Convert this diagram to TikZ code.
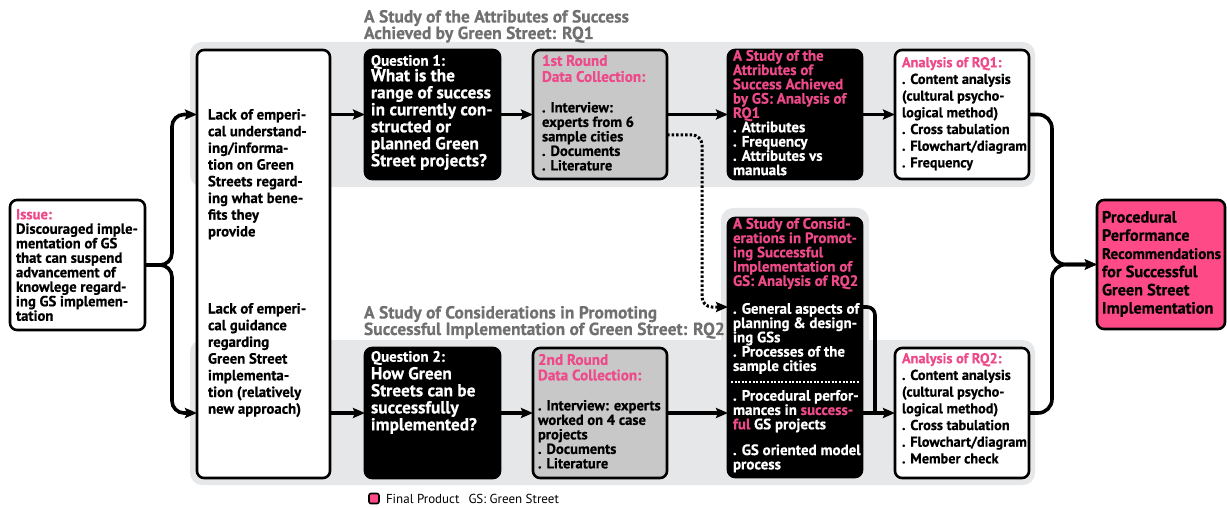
\documentclass[tikz,border=0pt]{standalone}
\usepackage{fontspec}
\setmainfont{PT Sans}[BoldFeatures={FakeBold=0.6}]
\usetikzlibrary{arrows.meta,calc}
\definecolor{pinkT}{HTML}{EE4A8A}
\definecolor{pinkF}{HTML}{FF4A88}
\definecolor{bandgray}{HTML}{E6E7E8}
\definecolor{dcgray}{HTML}{C8C8C8}
\definecolor{titlegray}{HTML}{707070}
\begin{document}
\begin{tikzpicture}[x=1pt,y=-1pt,
  every node/.style={inner sep=0pt, outer sep=0pt},
  box/.style={draw=black, line width=2.6pt, rounded corners=7pt, anchor=north west, fill=white},
  blackbox/.style={box, fill=black},
  graybox/.style={box, fill=dcgray},
  band/.style={fill=bandgray, rounded corners=12pt},
  txt/.style={anchor=north west, align=left, font=\bfseries\fontsize{14.7}{14.5}\selectfont},
  txtD/.style={anchor=north west, align=left, font=\bfseries\fontsize{14.6}{14.5}\selectfont},
  txtL/.style={anchor=north west, align=left, font=\bfseries\fontsize{14.8}{16.7}\selectfont},
  txtQ/.style={anchor=north west, align=left, text=white, font=\bfseries\fontsize{17.3}{17}\selectfont},
  txtS/.style={anchor=north west, align=left, font=\bfseries\fontsize{15}{14.3}\selectfont},
  txtA/.style={anchor=north west, align=left, font=\bfseries\fontsize{14.3}{16.7}\selectfont},
  ttl/.style={anchor=north west, align=left, text=titlegray, font=\bfseries\fontsize{17.5}{16.5}\selectfont},
  conn/.style={line width=3.6pt, -{Stealth[length=12pt,width=10pt,inset=2pt]}},
  connline/.style={line width=3.6pt},
  dotc/.style={line width=3pt, dash pattern=on 2.5pt off 2pt, -{Stealth[length=12pt,width=10pt,inset=2pt]}},
]
\useasboundingbox (0,0) rectangle (1227,508);
% bands
\fill[band] (190,42) rectangle (1035,187);
\fill[band] (721,208) rectangle (869,360);
\fill[band] (190,340) rectangle (1035,485);
% titles
\node[ttl] (title1) at (364,10) {A Study of the Attributes of Success\\Achieved by Green Street: RQ1};
\node[ttl] (title2) at (364,306) {A Study of Considerations in Promoting\\Successful Implementation of Green Street: RQ2};
% boxes
\node[box, minimum width=135pt, minimum height=130pt] (issue) at (10,200) {};
\node[box, minimum width=133pt, minimum height=428pt] (lack) at (197,50) {};
\node[blackbox, minimum width=135pt, minimum height=129pt] (q1) at (365,50) {};
\node[graybox, minimum width=134pt, minimum height=129pt] (dc1) at (533,50) {};
\node[blackbox, minimum width=134pt, minimum height=129pt] (s1) at (728,50) {};
\node[box, minimum width=134pt, minimum height=129pt] (a1) at (895,50) {};
\node[blackbox, minimum width=135pt, minimum height=130pt] (q2) at (365,348) {};
\node[graybox, minimum width=134pt, minimum height=130pt] (dc2) at (533,348) {};
\node[blackbox, minimum width=134pt, minimum height=259pt] (s2) at (728,218) {};
\node[box, minimum width=134pt, minimum height=130pt] (a2) at (895,348) {};
\node[box, fill=pinkF, minimum width=128pt, minimum height=129pt] (final) at (1097,200) {};
% texts
\node[txt] (issuet) at (16,209) {{\color{pinkT}Issue:}\\Discouraged imple-\\mentation of GS\\that can suspend\\advancement of\\knowlege regard-\\ing GS implemen-\\tation};
\node[txtL] (lackt1) at (208,109) {Lack of emperi-\\cal understand-\\ing/informa-\\tion on Green\\Streets regard-\\ing what bene-\\fits they\\provide};
\node[txtL] (lackt2) at (208,303) {Lack of emperi-\\cal guidance\\regarding\\Green Street\\implementa-\\tion (relatively\\new approach)};
\node[txt, text=white, font=\bfseries\fontsize{15}{15}\selectfont] (q1h) at (371,55) {Question 1:};
\node[txtQ] (q1t) at (371,69) {What is the\\range of success\\in currently con-\\structed or\\planned Green\\Street projects?};
\node[txt, text=white, font=\bfseries\fontsize{15}{15}\selectfont] (q2h) at (371,351) {Question 2:};
\node[txtQ] (q2t) at (371,367) {How Green\\Streets can be\\successfully\\implemented?};
\node[txt, text=pinkT, font=\bfseries\fontsize{15.2}{16}\selectfont] (dc1h) at (542,55) {1st Round\\Data Collection:};
\node[txtD] (dc1t) at (542,102) {. Interview:\\experts from 6\\sample cities\\. Documents\\. Literature};
\node[txt, text=pinkT, font=\bfseries\fontsize{15.2}{15.5}\selectfont] (dc2h) at (538,354) {2nd Round\\Data Collection:};
\node[txtD] (dc2t) at (538,400) {. Interview: experts\\worked on 4 case\\projects\\. Documents\\. Literature};
\node[txtS, text=white] (s1t) at (733,50) {{\color{pinkT}A Study of the}\\{\color{pinkT}Attributes of}\\{\color{pinkT}Success Achieved}\\{\color{pinkT}by GS: Analysis of}\\{\color{pinkT}RQ1}\\. Attributes\\. Frequency\\. Attributes vs\\manuals};
\node[txtA] (a1t) at (902,57) {{\color{pinkT}Analysis of RQ1:}\\. Content analysis\\(cultural psycho-\\logical method)\\. Cross tabulation\\. Flowchart/diagram\\. Frequency};
\node[txtA] (a2t) at (902,353) {{\color{pinkT}Analysis of RQ2:}\\. Content analysis\\(cultural psycho-\\logical method)\\. Cross tabulation\\. Flowchart/diagram\\. Member check};
\node[txtS, text=pinkT] (s2h) at (733,218) {A Study of Consid-\\erations in Promot-\\ing Successful\\Implementation of\\GS: Analysis of RQ2};
\node[txtS, text=white] (s2t1) at (733,303) {. General aspects of\\planning \& design-\\ing GSs\\. Processes of the\\sample cities};
\node[txtS, text=white] (s2t2) at (733,390) {. Procedural perfor-\\mances in {\color{pinkT}success-}\\{\color{pinkT}ful} GS projects\\[11.5pt]. GS oriented model\\process};
\node[anchor=north west, align=left, font=\bfseries\fontsize{16.3}{18.2}\selectfont] (finalt) at (1102,211) {Procedural\\Performance\\{\fontsize{15.2}{18.2}\selectfont Recommendations}\\for Successful\\Green Street\\Implementation};
% legend
\node[draw=black, fill=pinkF, line width=1.6pt, rounded corners=2pt, minimum size=10pt] (legsq) at (374,498.5) {};
\node[anchor=west, font=\fontsize{13}{14}\selectfont] (legt) at (386,499) {Final Product\hspace{9pt}GS: Green Street};
% coordinates
\coordinate (split) at (172,265);
\coordinate (merge) at (1052,264.5);
\coordinate (rowA) at (0,135);
\coordinate (rowB) at (0,307);
\coordinate (rowC) at (0,382);
\coordinate (dotX) at (702,0);
\coordinate (joinX) at (875,0);
% connectors
\draw[conn, rounded corners=12pt] (issue.east) -- (split) |- (lack.west |- q1.west);
\draw[conn, rounded corners=12pt] (issue.east) -- (split) |- (lack.west |- q2.west);
\draw[conn] (lack.east |- q1.west) -- (q1.west);
\draw[conn] (q1.east) -- (dc1.west);
\draw[conn] (dc1.east) -- (s1.west);
\draw[conn] (s1.east) -- (a1.west);
\draw[conn, rounded corners=14pt] (a1.east) -| (merge) -- (final.west);
\draw[conn, rounded corners=14pt] (a2.east) -| (merge) -- (final.west);
\draw[conn] (lack.east |- q2.west) -- (q2.west);
\draw[conn] (q2.east) -- (dc2.west);
\draw[conn] (dc2.east) -- (s2.west |- dc2.west);
\draw[conn] (s2.east |- a2.west) -- (a2.west);
\draw[connline, rounded corners=8pt] (s2.east |- rowB) -| (joinX |- a2.west);
\draw[dotc, rounded corners=10pt] (dc1.east |- rowA) -| (dotX |- rowB) -- (s2.west |- rowB);
\draw[white, line width=2.6pt, dash pattern=on 2pt off 1.6pt] ([xshift=3pt]s2.west |- rowC) -- ([xshift=-3pt]s2.east |- rowC);
\end{tikzpicture}
\end{document}
